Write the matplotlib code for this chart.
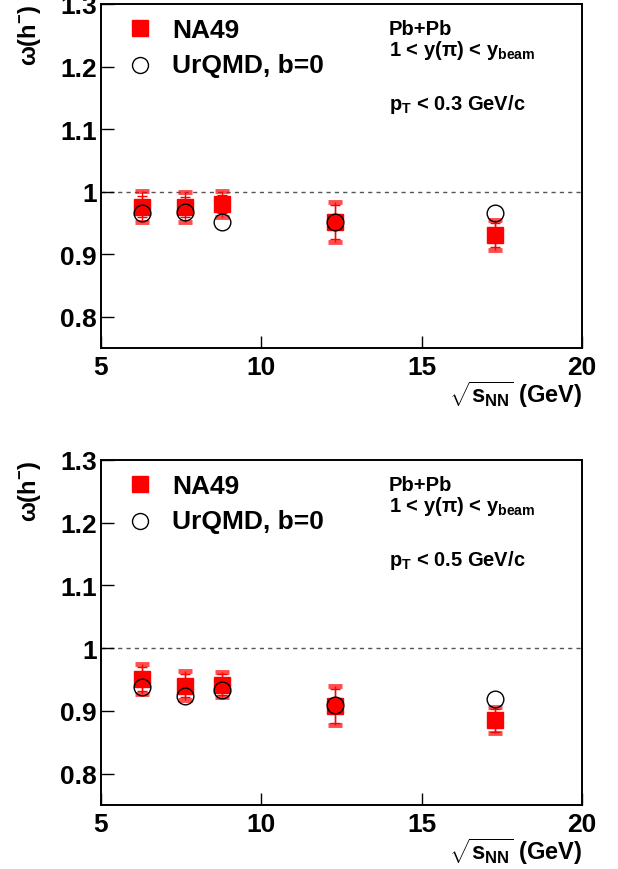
import matplotlib.pyplot as plt

plt.rcParams['font.family'] = ['Liberation Sans', 'DejaVu Sans']
plt.rcParams['font.weight'] = 'bold'
plt.rcParams['mathtext.fontset'] = 'custom'
plt.rcParams['mathtext.rm'] = 'Liberation Sans:bold'
plt.rcParams['mathtext.it'] = 'Liberation Sans:bold'
plt.rcParams['mathtext.bf'] = 'Liberation Sans:bold'

# collision energies (GeV)
sqrt_s = [6.27, 7.62, 8.76, 12.3, 17.3]

# pT < 0.3 GeV/c
na49_low = [0.976, 0.975, 0.980, 0.951, 0.930]
stat_low = [0.017, 0.016, 0.015, 0.027, 0.019]
sys_low = [0.025, 0.024, 0.021, 0.032, 0.024]
urqmd_low = [0.966, 0.967, 0.952, 0.951, 0.966]

# pT < 0.5 GeV/c
na49_high = [0.951, 0.940, 0.942, 0.908, 0.885]
stat_high = [0.019, 0.018, 0.016, 0.027, 0.018]
sys_high = [0.024, 0.023, 0.020, 0.031, 0.021]
urqmd_high = [0.938, 0.923, 0.933, 0.910, 0.919]

x_ticks = [5, 10, 15, 20]
y_ticks = [0.8, 0.9, 1.0, 1.1, 1.2, 1.3]
y_ticklabels = ['0.8', '0.9', '1', '1.1', '1.2', '1.3']


def draw_panel(ax, na49, stat, sys, urqmd, pt_text):
    ax.set_xlim(5, 20)
    ax.set_ylim(0.75, 1.3)
    ax.axhline(1.0, color='#555555', ls=(0, (3, 3)), lw=1.0, zorder=1)

    # systematic caps
    lo = [v - e for v, e in zip(na49, sys)]
    hi = [v + e for v, e in zip(na49, sys)]
    for yy in (lo, hi):
        ax.plot(sqrt_s, yy, ls='none', marker='_', ms=10, mew=3.5,
                color='red', alpha=0.7, zorder=2)
    ax.vlines(sqrt_s, lo, hi, color='red', lw=1.0, zorder=2)
    ax.errorbar(sqrt_s, na49, yerr=stat, fmt='s', color='red', ms=12,
                mec='red', ecolor='red', elinewidth=1.0, capsize=3.5,
                capthick=1.0, zorder=3)
    ax.plot(sqrt_s, urqmd, ls='none', marker='o', ms=12, mfc='none',
            mec='black', mew=1.0, zorder=4)

    ax.set_xticks(x_ticks)
    ax.set_yticks(y_ticks)
    ax.set_yticklabels(y_ticklabels)
    ax.tick_params(direction='in', length=9, width=1.0, labelsize=19,
                   pad=5)
    ax.tick_params(axis='y', pad=3)
    for sp in ax.spines.values():
        sp.set_linewidth(1.4)

    # legend
    ax.plot([0.081], [0.930], transform=ax.transAxes, marker='s', ms=11.5,
            color='red', ls='none', clip_on=False)
    ax.plot([0.081], [0.824], transform=ax.transAxes, marker='o', ms=11.5,
            mfc='none', mec='black', mew=1.0, ls='none', clip_on=False)
    ax.text(0.148, 0.904, 'NA49', transform=ax.transAxes, fontsize=19,
            fontweight='bold', va='baseline')
    ax.text(0.148, 0.802, 'UrQMD, b=0', transform=ax.transAxes,
            fontsize=19, fontweight='bold', va='baseline')

    ax.text(0.599, 0.912, 'Pb+Pb', transform=ax.transAxes, fontsize=14.5,
            va='baseline')
    ax.text(0.599, 0.853, r'1 < y($\pi$) < y$_{\mathrm{beam}}$',
            transform=ax.transAxes, fontsize=14.5, va='baseline')
    ax.text(0.599, 0.695, pt_text, transform=ax.transAxes, fontsize=14.5,
            va='baseline')

    ax.text(-0.148, 1.0, r'$\omega$(h$^{-}$)', transform=ax.transAxes,
            rotation=90, ha='center', va='top', fontsize=17)
    ax.text(1.0, -0.088, r'$\sqrt{s_{NN}}$ (GeV)', transform=ax.transAxes,
            ha='right', va='top', fontsize=17)


fig = plt.figure(figsize=(6.18, 8.70), dpi=100)
ax1 = fig.add_axes([0.1634, 0.5989, 0.7783, 0.3954])
ax2 = fig.add_axes([0.1634, 0.0736, 0.7783, 0.3966])

draw_panel(ax1, na49_low, stat_low, sys_low, urqmd_low,
           r'p$_{T}$ < 0.3 GeV/c')
draw_panel(ax2, na49_high, stat_high, sys_high, urqmd_high,
           r'p$_{T}$ < 0.5 GeV/c')

fig.savefig('out.png', dpi=100)
